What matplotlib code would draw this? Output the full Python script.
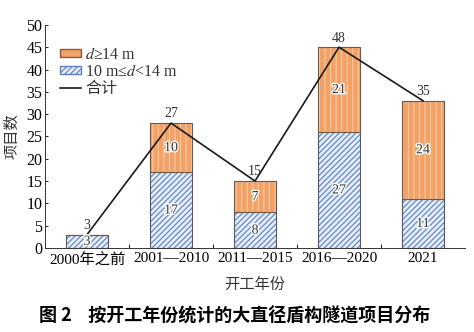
import matplotlib
matplotlib.use('Agg')
import matplotlib.pyplot as plt
import matplotlib.patheffects as pe
import numpy as np

plt.rcParams['font.family'] = ['Liberation Serif', 'Noto Sans CJK SC']
plt.rcParams['mathtext.fontset'] = 'stix'
plt.rcParams['hatch.linewidth'] = 0.8

categories = ['2000年之前', '2001—2010', '2011—2015', '2016—2020', '2021']
# bar heights as drawn
small_bar = [3, 17, 8, 26, 11]
large_bar = [0, 11, 7, 19, 22]
# printed labels
small_lbl = [3, 17, 8, 27, 11]
large_lbl = [None, 10, 7, 21, 24]
total_lbl = [3, 27, 15, 48, 35]

x = np.arange(len(categories))
tops = np.array(small_bar) + np.array(large_bar)

fig = plt.figure(figsize=(4.74, 3.32), dpi=100)
ax = fig.add_axes([0.095, 0.253, 0.886, 0.672])

w = 0.5
# blue hatched segment
ax.bar(x, small_bar, w, color='#e4ecf7', edgecolor='#5a80c0', hatch='//////', linewidth=0)
ax.bar(x, small_bar, w, fill=False, edgecolor='#555566', linewidth=0.8)
# orange striped segment
ax.bar(x, large_bar, w, bottom=small_bar, color='#f2a266', edgecolor='#f8c9a0', hatch='|||', linewidth=0)
ax.bar(x, large_bar, w, bottom=small_bar, fill=False, edgecolor='#6a5a50', linewidth=0.8)

# legend handles
h1 = ax.bar([0], [0], 0, color='#f2a266', edgecolor='#8a5a40', label=r'$d$≥14 m')
h2 = ax.bar([0], [0], 0, color='#e4ecf7', edgecolor='#5a80c0', hatch='//////', label=r'10 m≤$d$<14 m')
l, = ax.plot(x, tops, color='#1a1a1a', lw=1.2, label='合计')

halo = [pe.withStroke(linewidth=2, foreground='white')]
for i in x:
    ax.text(i, small_bar[i] / 2, str(small_lbl[i]), ha='center', va='center',
            fontsize=10, color='#333333', path_effects=halo)
    if large_lbl[i] is not None:
        ax.text(i, small_bar[i] + large_bar[i] / 2, str(large_lbl[i]), ha='center', va='center',
                fontsize=10, color='#333333', path_effects=halo)
    ax.text(i, tops[i] + 0.6, str(total_lbl[i]), ha='center', va='bottom',
            fontsize=10, color='#333333')

ax.set_xlim(-0.5, 4.5)
ax.set_ylim(0, 50)
ax.set_yticks(range(0, 51, 5))
ax.set_xticks(x)
ax.set_xticklabels(categories, fontsize=11)
ax.set_xticks(x[:-1] + 0.5, minor=True)
ax.tick_params(axis='x', which='major', length=0, pad=3)
ax.tick_params(axis='x', which='minor', direction='in', length=3, width=0.6)
ax.tick_params(axis='y', direction='in', length=2, width=0.6, labelsize=11.5, pad=2)
for s in ['top', 'right']:
    ax.spines[s].set_visible(False)
for s in ['left', 'bottom']:
    ax.spines[s].set_linewidth(0.7)
    ax.spines[s].set_color('#333333')

ax.set_xlabel('开工年份', fontsize=11, family=['Noto Sans CJK SC'], labelpad=7, color='#333333')
ax.set_ylabel('项目数', fontsize=11, family=['Noto Sans CJK SC'], labelpad=4, color='#333333')

leg = ax.legend(handles=[h1, h2, l], loc='upper left', bbox_to_anchor=(0.02, 0.93),
                frameon=False, fontsize=11.5, handlelength=1.3, handleheight=0.35,
                handletextpad=0.3, labelspacing=0.05, borderaxespad=0)
for t in leg.get_texts():
    t.set_color('#333333')

fig.text(0.495, 0.048, '图 2    按开工年份统计的大直径盾构隧道项目分布', ha='center', va='center',
         fontsize=13, fontweight='bold', family=['Noto Sans CJK SC'])

fig.savefig('out.png', dpi=100)
